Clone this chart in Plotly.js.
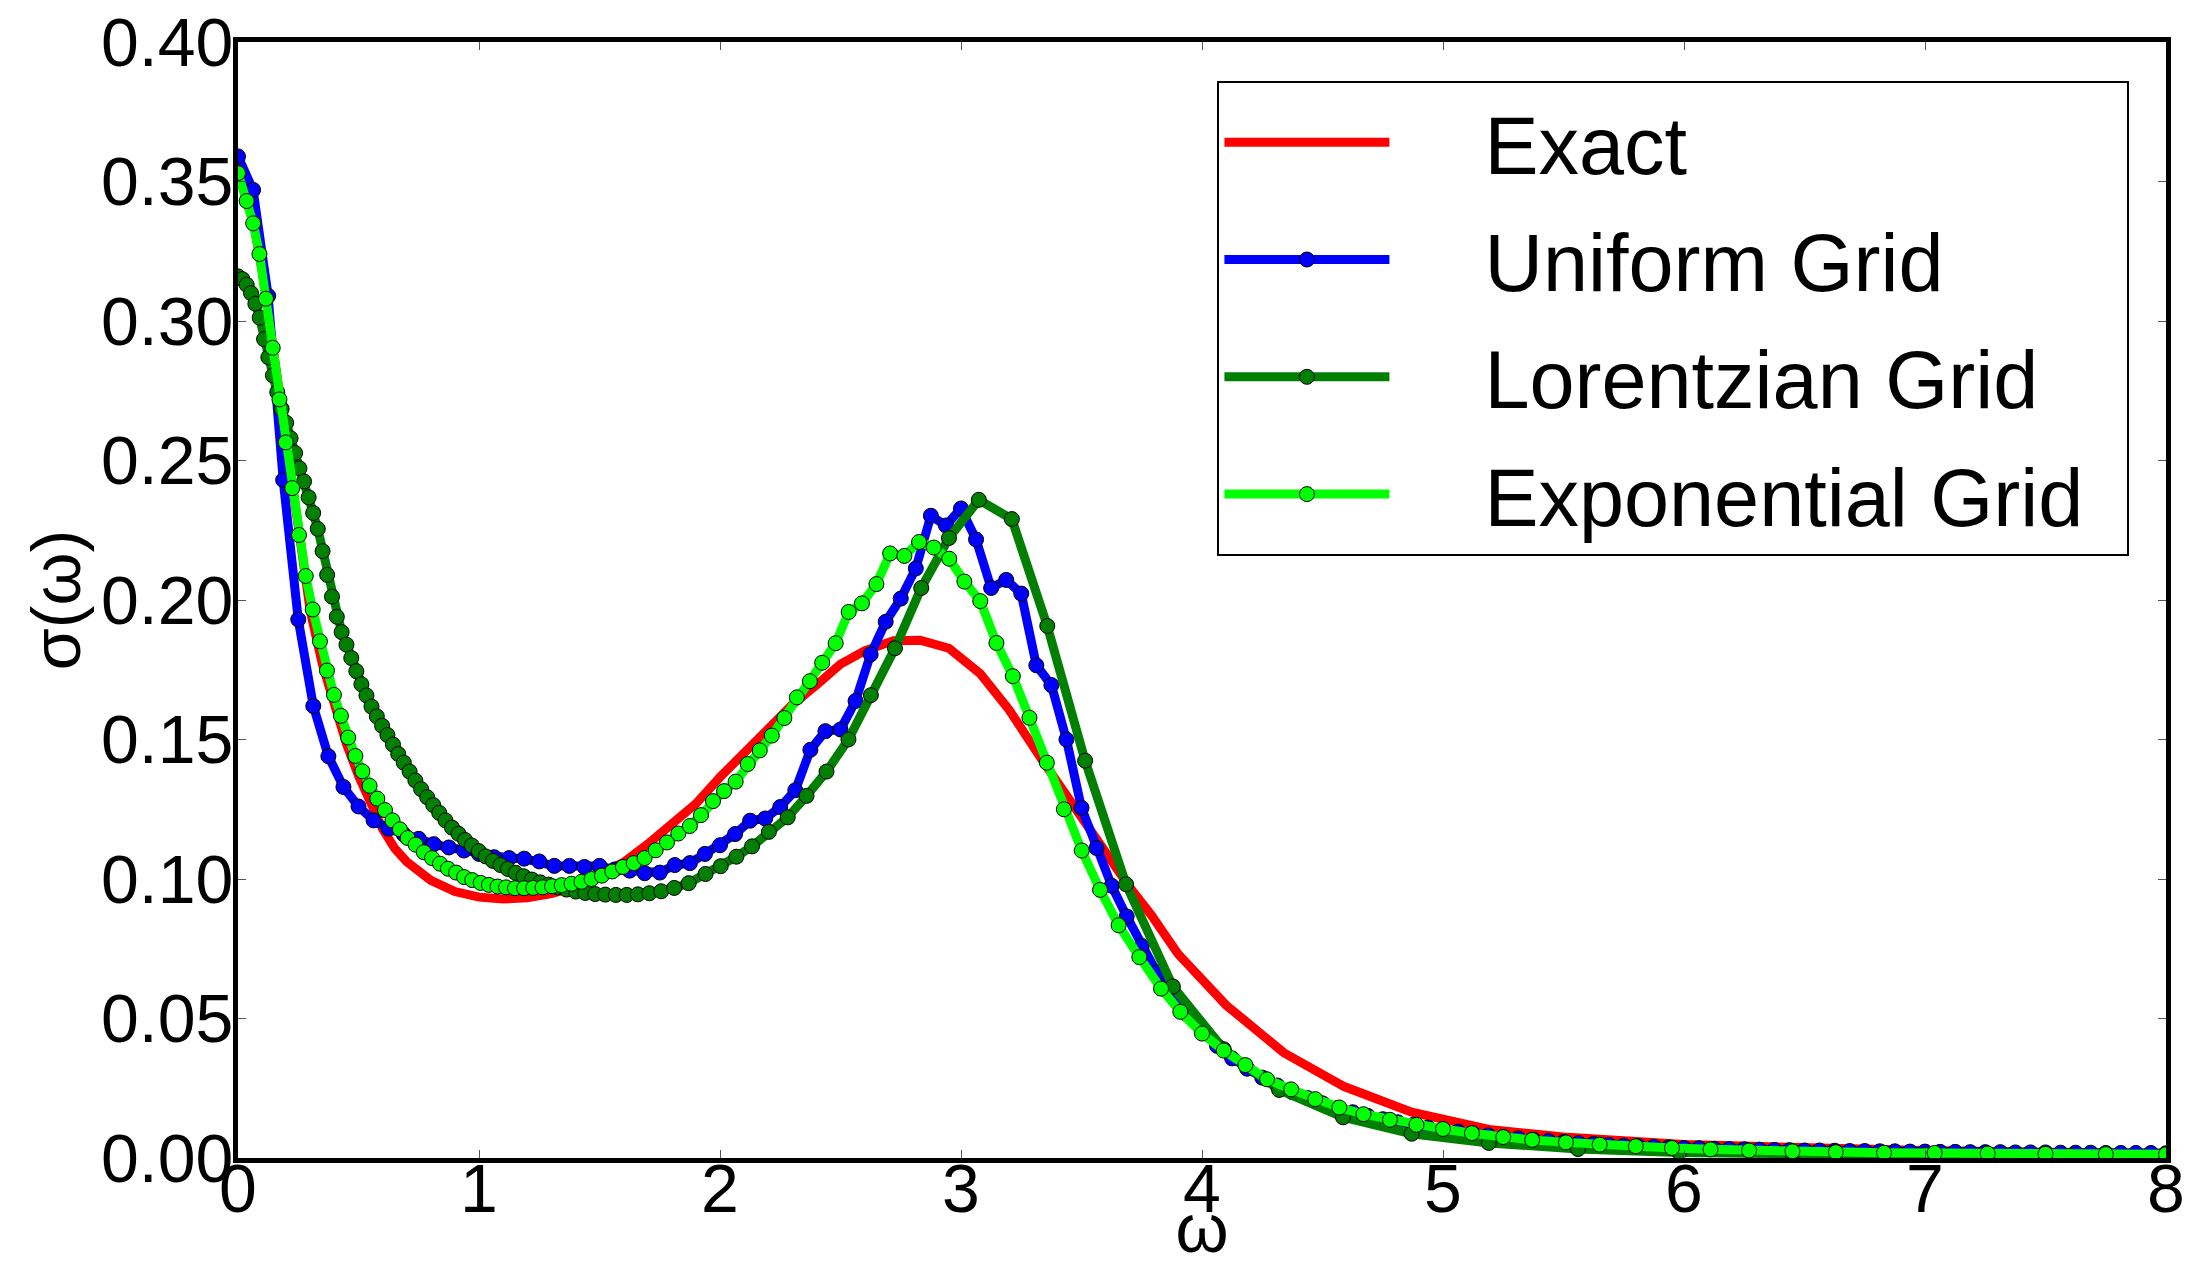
<!DOCTYPE html>
<html>
<head>
<meta charset="utf-8">
<script src="https://cdn.plot.ly/plotly-3.0.1.min.js"></script>
<style>html,body{margin:0;padding:0;background:#fff;}#chart{width:2195px;height:1266px;}</style>
</head>
<body>
<div id="chart"></div>
<script>
// ---- data ----
const seriesNames = ["Exact", "Uniform Grid", "Lorentzian Grid", "Exponential Grid"];

const exactX = [0, 0.05, 0.1, 0.15, 0.2, 0.25, 0.3, 0.35, 0.4, 0.45, 0.5, 0.55, 0.6, 0.65, 0.7, 0.8, 0.9, 1.0, 1.1, 1.2, 1.3, 1.4, 1.5, 1.6, 1.7, 1.8, 1.9, 2.0, 2.1, 2.2, 2.3, 2.4, 2.5, 2.6, 2.72, 2.83, 2.95, 3.08, 3.2, 3.33, 3.46, 3.57, 3.7, 3.79, 3.9, 4.1, 4.34, 4.59, 4.87, 5.2, 5.5, 6.0, 6.5, 7.0, 7.5, 8.0];
const exactY = [0.352, 0.342, 0.318, 0.287, 0.254, 0.222, 0.196, 0.177, 0.162, 0.1485, 0.137, 0.127, 0.118, 0.111, 0.1062, 0.0995, 0.0955, 0.0935, 0.0928, 0.0933, 0.0948, 0.0972, 0.1013, 0.106, 0.1125, 0.1195, 0.127, 0.1365, 0.145, 0.1545, 0.1625, 0.1695, 0.177, 0.1818, 0.1854, 0.1856, 0.1827, 0.1736, 0.1606, 0.1435, 0.127, 0.1135, 0.097, 0.087, 0.0732, 0.0548, 0.0377, 0.0256, 0.0164, 0.0101, 0.0075, 0.0048, 0.0035, 0.0027, 0.0021, 0.0017];

const uniformX = [0, 0.0625, 0.125, 0.1875, 0.25, 0.3125, 0.375, 0.4375, 0.5, 0.5625, 0.625, 0.6875, 0.75, 0.8125, 0.875, 0.9375,
  1.0, 1.0625, 1.125, 1.1875, 1.25, 1.3125, 1.375, 1.4375, 1.5, 1.5625, 1.625, 1.6875, 1.75, 1.8125, 1.875, 1.9375,
  2.0, 2.0625, 2.125, 2.1875, 2.25, 2.3125, 2.375, 2.4375, 2.5, 2.5625, 2.625, 2.6875, 2.75, 2.8125, 2.875, 2.9375,
  3.0, 3.0625, 3.125, 3.1875, 3.25, 3.3125, 3.375, 3.4375, 3.5, 3.5625, 3.625, 3.6875, 3.75, 3.8125, 3.875, 3.9375,
  4.0, 4.0625, 4.125, 4.1875, 4.25, 4.3125, 4.375, 4.4375, 4.5, 4.5625, 4.625, 4.6875, 4.75, 4.8125, 4.875, 4.9375,
  5.0, 5.0625, 5.125, 5.1875, 5.25, 5.3125, 5.375, 5.4375, 5.5, 5.5625, 5.625, 5.6875, 5.75, 5.8125, 5.875, 5.9375,
  6.0, 6.0625, 6.125, 6.1875, 6.25, 6.3125, 6.375, 6.4375, 6.5, 6.5625, 6.625, 6.6875, 6.75, 6.8125, 6.875, 6.9375,
  7.0, 7.0625, 7.125, 7.1875, 7.25, 7.3125, 7.375, 7.4375, 7.5, 7.5625, 7.625, 7.6875, 7.75, 7.8125, 7.875, 7.9375, 8.0];
const uniformY = [0.359, 0.347, 0.309, 0.243, 0.193, 0.162, 0.144, 0.133, 0.126, 0.121, 0.118, 0.116, 0.1144, 0.1125, 0.1113, 0.1102,
  0.1090, 0.1078, 0.1075, 0.1073, 0.1063, 0.1047, 0.1047, 0.1043, 0.1047, 0.1034, 0.1030, 0.1021, 0.1023, 0.1050, 0.1057, 0.1090,
  0.1121, 0.1161, 0.1209, 0.1217, 0.1258, 0.1318, 0.1463, 0.1530, 0.1536, 0.1638, 0.1805, 0.1922, 0.2005, 0.2113, 0.2302, 0.2267,
  0.2328, 0.2217, 0.2043, 0.2072, 0.2023, 0.1766, 0.1695, 0.1500, 0.1255, 0.1111, 0.0976, 0.0866, 0.0760, 0.0665, 0.0585, 0.0515,
  0.0455, 0.0402, 0.0357, 0.0320, 0.0288, 0.0260, 0.0236, 0.0215, 0.0196, 0.0179, 0.0164, 0.0151, 0.0139, 0.0128, 0.0118, 0.0109,
  0.0101, 0.0094, 0.0087, 0.0081, 0.0075, 0.0070, 0.0065, 0.0061, 0.0057, 0.0053, 0.0050, 0.0047, 0.0044, 0.0042, 0.0040, 0.0038,
  0.0036, 0.0035, 0.0033, 0.0032, 0.0031, 0.0030, 0.0029, 0.0028, 0.0027, 0.0027, 0.0026, 0.0025, 0.0025, 0.0024, 0.0024, 0.0023,
  0.0023, 0.0022, 0.0022, 0.0021, 0.0021, 0.0021, 0.0020, 0.0020, 0.0020, 0.0019, 0.0019, 0.0019, 0.0018, 0.0018, 0.0018, 0.0018, 0.0017];

const lorentzX = [0, 0.018, 0.036, 0.054, 0.072, 0.090, 0.108, 0.126, 0.145, 0.163, 0.181, 0.200, 0.218, 0.237, 0.255, 0.274, 0.293, 0.312, 0.331, 0.351,
  0.370, 0.390, 0.410, 0.430, 0.450, 0.470, 0.491, 0.512, 0.533, 0.554, 0.576, 0.598, 0.620, 0.643, 0.665, 0.688, 0.712, 0.736, 0.760, 0.785,
  0.810, 0.835, 0.861, 0.888, 0.915, 0.942, 0.970, 0.999, 1.028, 1.058, 1.089, 1.120, 1.152, 1.185, 1.219, 1.254, 1.289, 1.326, 1.363, 1.402,
  1.441, 1.482, 1.524, 1.568, 1.613, 1.659, 1.707, 1.756, 1.81, 1.87, 1.94, 2.003, 2.068, 2.133, 2.203, 2.281, 2.359, 2.442, 2.533, 2.626,
  2.726, 2.835, 2.95, 3.074, 3.211, 3.358, 3.515, 3.685, 3.879, 4.09, 4.32, 4.585, 4.87, 5.19, 5.56, 5.98, 6.45, 7.0, 7.6, 8.0];
const lorentzY = [0.316, 0.3150, 0.3130, 0.3100, 0.3062, 0.3012, 0.2935, 0.2870, 0.2805, 0.2745, 0.2685, 0.2635, 0.2580, 0.2527, 0.2472, 0.2425, 0.2368, 0.2312, 0.2255, 0.2175,
  0.2090, 0.2012, 0.1940, 0.1885, 0.1840, 0.1792, 0.1745, 0.1698, 0.1658, 0.1618, 0.1583, 0.1549, 0.1516, 0.1482, 0.1448, 0.1417, 0.1385, 0.1353, 0.1322, 0.1293,
  0.1265, 0.1237, 0.1210, 0.1184, 0.1162, 0.1140, 0.1120, 0.1100, 0.1081, 0.1065, 0.1050, 0.1036, 0.1022, 0.1010, 0.0998, 0.0988, 0.0980, 0.0970, 0.0962, 0.0955,
  0.0950, 0.0946, 0.0944, 0.0943, 0.0943, 0.0945, 0.0949, 0.0956, 0.0968, 0.0985, 0.1018, 0.1046, 0.1080, 0.1117, 0.1169, 0.1221, 0.1298, 0.1385, 0.1500, 0.1659,
  0.1827, 0.2043, 0.2222, 0.2359, 0.2290, 0.1907, 0.1424, 0.0981, 0.0615, 0.0390, 0.0244, 0.0146, 0.0087, 0.0054, 0.0032, 0.0020, 0.0014, 0.0010, 0.0008, 0.0007];

const expoX = [0, 0.036, 0.063, 0.089, 0.116, 0.144, 0.172, 0.198, 0.225, 0.253, 0.281, 0.310, 0.340, 0.369, 0.398, 0.427, 0.457, 0.487, 0.516, 0.546,
  0.578, 0.610, 0.641, 0.672, 0.704, 0.737, 0.771, 0.805, 0.838, 0.871, 0.905, 0.938, 0.972, 1.007, 1.041, 1.077, 1.112, 1.149, 1.187, 1.225,
  1.264, 1.303, 1.343, 1.384, 1.425, 1.467, 1.510, 1.553, 1.597, 1.642, 1.687, 1.733, 1.780, 1.827, 1.875, 1.921, 1.971, 2.017, 2.065, 2.115,
  2.165, 2.215, 2.267, 2.319, 2.373, 2.424, 2.480, 2.534, 2.589, 2.649, 2.706, 2.765, 2.826, 2.887, 2.951, 3.014, 3.080, 3.147, 3.215, 3.284,
  3.356, 3.427, 3.501, 3.577, 3.654, 3.74, 3.83, 3.91, 4.00, 4.09, 4.18, 4.27, 4.37, 4.47, 4.57, 4.67, 4.78, 4.89, 5.00, 5.12,
  5.25, 5.37, 5.51, 5.65, 5.80, 5.95, 6.11, 6.27, 6.45, 6.63, 6.83, 7.04, 7.26, 7.50, 7.75, 8.00];
const expoY = [0.353, 0.343, 0.335, 0.324, 0.308, 0.2904, 0.2719, 0.2565, 0.2401, 0.2233, 0.2086, 0.1966, 0.1852, 0.1747, 0.1660, 0.1585, 0.1507, 0.1441, 0.1386, 0.1334,
  0.1288, 0.1247, 0.1210, 0.1178, 0.1147, 0.1123, 0.1096, 0.1075, 0.1055, 0.1037, 0.1023, 0.1007, 0.0996, 0.0986, 0.0979, 0.0973, 0.0970, 0.0967, 0.0967, 0.0968,
  0.0970, 0.0974, 0.0978, 0.0983, 0.0990, 0.1000, 0.1012, 0.1027, 0.1043, 0.1057, 0.1075, 0.1103, 0.1131, 0.1163, 0.1190, 0.1229, 0.1279, 0.1315, 0.1349, 0.1412,
  0.1461, 0.1514, 0.1577, 0.1651, 0.1709, 0.1775, 0.1845, 0.1957, 0.1988, 0.2057, 0.2167, 0.2158, 0.2208, 0.2188, 0.2148, 0.2066, 0.1996, 0.1846, 0.1727, 0.1578,
  0.1417, 0.1250, 0.1102, 0.0961, 0.0834, 0.0720, 0.0607, 0.0524, 0.0446, 0.0385, 0.0333, 0.0282, 0.0246, 0.0211, 0.0181, 0.0157, 0.0137, 0.0119, 0.0104, 0.0089,
  0.0075, 0.0065, 0.0056, 0.0048, 0.0042, 0.0036, 0.0031, 0.0027, 0.0024, 0.0021, 0.0019, 0.0018, 0.0016, 0.0015, 0.0014, 0.0013];

const yTickVals = [0, 0.05, 0.1, 0.15, 0.2, 0.25, 0.3, 0.35, 0.4];
const yTickText = ["0.00", "0.05", "0.10", "0.15", "0.20", "0.25", "0.30", "0.35", "0.40"];
const xTickVals = [0, 1, 2, 3, 4, 5, 6, 7, 8];
const xTickText = ["0", "1", "2", "3", "4", "5", "6", "7", "8"];

// ---- styling ----
const FONT = "Liberation Sans, Arial, Helvetica, sans-serif";
const LW = 9;
const MS = 15;
const GAP = "\u00A0\u00A0\u00A0\u00A0";
const TAIL = "\u00A0\u2009";
function markerStyle(color) {
  return {size: MS, color: color, line: {color: "#000", width: 1}};
}

const traces = [
  {x: exactX, y: exactY, name: GAP + seriesNames[0], legendgroup: "a", type: "scatter", mode: "lines",
   line: {color: "#ff0000", width: LW}},
  {x: uniformX, y: uniformY, name: GAP + seriesNames[1], legendgroup: "b", type: "scatter", mode: "lines+markers",
   line: {color: "#0000ff", width: LW}, marker: markerStyle("#0000ff")},
  {x: lorentzX, y: lorentzY, name: GAP + seriesNames[2], legendgroup: "c", type: "scatter", mode: "lines+markers",
   line: {color: "#007f00", width: LW}, marker: markerStyle("#007f00")},
  {x: expoX, y: expoY, name: GAP + seriesNames[3] + TAIL, legendgroup: "d", type: "scatter", mode: "lines+markers",
   line: {color: "#00ff00", width: LW}, marker: markerStyle("#00ff00")}
];

const axisCommon = {
  showgrid: false, zeroline: false,
  showline: true, linecolor: "#000", linewidth: 5, mirror: "allticks",
  ticks: "inside", ticklen: 8, tickwidth: 1, tickcolor: "#555",
  tickfont: {family: FONT, size: 68, color: "#000"}
};

const layout = {
  width: 2195, height: 1266,
  margin: {l: 238, r: 29, t: 42, b: 108},
  paper_bgcolor: "#fff", plot_bgcolor: "#fff",
  font: {family: FONT, color: "#000"},
  showlegend: true,
  legend: {
    x: 0.508, y: 0.965, xanchor: "left", yanchor: "top",
    bgcolor: "#fff", bordercolor: "#000", borderwidth: 2,
    font: {family: FONT, size: 81, color: "#000"},
    itemwidth: 165, traceorder: "grouped", tracegroupgap: 9
  },
  xaxis: Object.assign({}, axisCommon, {
    range: [0, 8], tickmode: "array", tickvals: xTickVals, ticktext: xTickText,
    ticklabelstandoff: -33,
    title: {text: "ω", font: {family: FONT, size: 68, color: "#000"}, standoff: 2}
  }),
  yaxis: Object.assign({}, axisCommon, {
    range: [0, 0.4], tickmode: "array", tickvals: yTickVals, ticktext: yTickText,
    ticklabelstandoff: -14,
    title: {text: "σ(ω)", font: {family: FONT, size: 68, color: "#000"}, standoff: 0}
  })
};

Plotly.newPlot("chart", traces, layout, {displayModeBar: false, staticPlot: true});
</script>
</body>
</html>
